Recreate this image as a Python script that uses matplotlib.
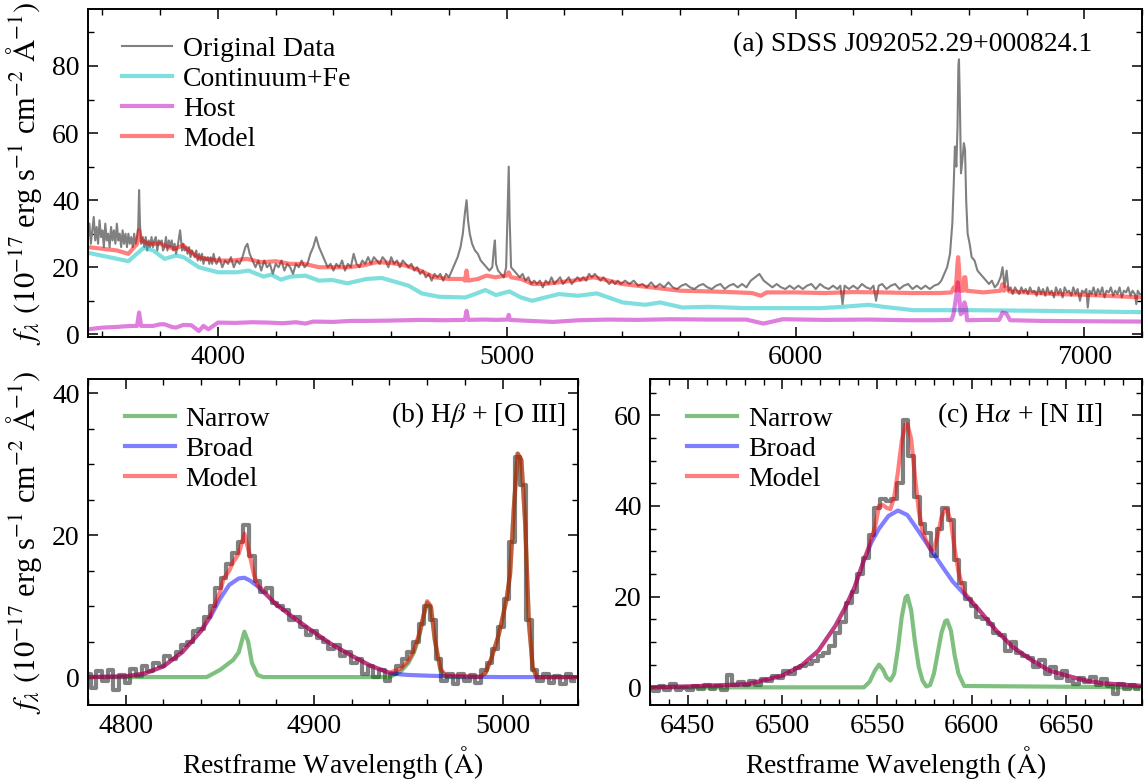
import matplotlib
matplotlib.use("Agg")
import matplotlib.pyplot as plt
from matplotlib.ticker import MultipleLocator

plt.rcParams['font.family'] = ['Liberation Serif', 'DejaVu Serif']
plt.rcParams['mathtext.fontset'] = 'stix'
plt.rcParams['font.size'] = 20

# ---- panel (a): full spectrum -------------------------------------------
wave_data = [
    3550, 3555, 3560, 3565, 3570, 3575, 3580, 3585, 3590, 3595, 3600, 3605, 3610, 3615, 3620, 3625,
    3630, 3635, 3640, 3645, 3650, 3655, 3660, 3665, 3670, 3675, 3680, 3685, 3690, 3695, 3700, 3705,
    3710, 3715, 3720, 3724, 3727, 3730, 3734, 3740, 3745, 3750, 3755, 3760, 3765, 3770, 3775, 3780,
    3785, 3790, 3795, 3800, 3805, 3810, 3815, 3820, 3825, 3830, 3835, 3840, 3845, 3850, 3855, 3862,
    3869, 3876, 3880, 3885, 3890, 3895, 3900, 3905, 3910, 3915, 3920, 3925, 3930, 3935, 3940, 3945,
    3950, 3955, 3960, 3965, 3970, 3975, 3980, 3985, 3990, 3995, 4005, 4015, 4025, 4035, 4045, 4055,
    4065, 4075, 4085, 4095, 4102, 4110, 4120, 4130, 4140, 4150, 4160, 4170, 4180, 4190, 4200, 4210,
    4220, 4230, 4240, 4250, 4260, 4270, 4280, 4290, 4300, 4310, 4320, 4330, 4340, 4350, 4360, 4370,
    4380, 4390, 4400, 4410, 4420, 4430, 4440, 4450, 4460, 4470, 4480, 4490, 4500, 4510, 4520, 4530,
    4540, 4550, 4560, 4570, 4580, 4590, 4600, 4610, 4620, 4630, 4640, 4650, 4660, 4670, 4680, 4690,
    4700, 4710, 4720, 4730, 4740, 4750, 4760, 4770, 4780, 4790, 4800, 4810, 4820, 4830, 4840, 4848,
    4855, 4861, 4866, 4872, 4880, 4890, 4900, 4910, 4920, 4930, 4940, 4950, 4956, 4959, 4963, 4970,
    4980, 4990, 4998, 5004, 5007, 5010, 5015, 5025, 5035, 5045, 5055, 5065, 5075, 5085, 5095, 5105,
    5115, 5125, 5135, 5145, 5155, 5165, 5175, 5185, 5195, 5205, 5215, 5225, 5235, 5245, 5255, 5265,
    5275, 5285, 5295, 5305, 5315, 5325, 5335, 5345, 5355, 5365, 5375, 5385, 5395, 5410, 5425, 5440,
    5455, 5470, 5485, 5500, 5515, 5530, 5545, 5560, 5575, 5590, 5605, 5620, 5635, 5650, 5665, 5680,
    5695, 5710, 5725, 5740, 5755, 5770, 5785, 5800, 5815, 5830, 5845, 5860, 5875, 5890, 5905, 5920,
    5935, 5950, 5965, 5980, 5995, 6010, 6025, 6040, 6055, 6070, 6085, 6100, 6115, 6130, 6145, 6155,
    6163, 6170, 6185, 6200, 6215, 6230, 6245, 6260, 6270, 6279, 6288, 6300, 6315, 6330, 6345, 6360,
    6375, 6390, 6405, 6420, 6435, 6450, 6465, 6480, 6495, 6505, 6515, 6525, 6535, 6543, 6548, 6552,
    6557, 6561, 6564, 6566, 6569, 6573, 6578, 6583, 6587, 6591, 6596, 6603, 6610, 6620, 6630, 6640,
    6650, 6660, 6670, 6680, 6690, 6700, 6710, 6717, 6724, 6731, 6738, 6745, 6752, 6760, 6767, 6775,
    6782, 6790, 6797, 6805, 6812, 6820, 6827, 6835, 6842, 6850, 6857, 6865, 6872, 6880, 6887, 6895,
    6902, 6910, 6917, 6925, 6932, 6940, 6947, 6955, 6962, 6970, 6977, 6985, 6992, 7000, 7007, 7012,
    7018, 7025, 7032, 7040, 7047, 7055, 7062, 7070, 7077, 7085, 7092, 7100, 7107, 7115, 7122, 7130,
    7137, 7145, 7152, 7160, 7167, 7175, 7180, 7185, 7192, 7200,
]
flux_data = [
    29, 33, 27, 31, 35, 28, 32, 27, 34, 29, 31, 26, 33, 28, 30, 26,
    32, 28, 31, 27, 33, 28, 30, 26, 31, 27, 30, 26, 30, 27, 29, 26,
    30, 27, 29, 32, 43, 33, 27, 29, 26, 29, 25, 28, 26, 29, 26, 28,
    29, 25, 28, 27, 28, 25, 26, 29, 25, 28, 26, 28, 25, 27, 24, 27,
    31, 25, 27, 25, 26, 24, 26, 23, 25, 24, 23, 25, 22, 24, 22, 24,
    21, 23, 22, 23, 21, 23, 21, 24, 22, 21, 23, 20, 22, 21, 23, 20,
    22, 21, 23, 26, 27, 24, 22, 20, 22, 19, 22, 20, 21, 18, 21, 20,
    22, 19, 21, 20, 18, 21, 20, 22, 20, 21, 24, 26, 29, 26, 24, 22,
    20, 21, 19, 21, 20, 22, 19, 21, 20, 24, 21, 20, 22, 21, 23, 21,
    23, 22, 21, 23, 22, 20, 23, 21, 22, 20, 22, 21, 20, 21, 19, 20,
    18, 19, 17, 18, 16, 18, 17, 18, 16, 18, 17, 19, 21, 23, 26, 30,
    36, 40, 34, 30, 27, 25, 24, 22, 21, 20, 19, 20, 26, 28, 21, 19,
    18, 17, 20, 40, 50, 35, 20, 19, 18, 17, 18, 16, 17, 15, 16, 15,
    16, 14, 16, 15, 17, 15, 16, 17, 15, 16, 17, 15, 16, 17, 16, 17,
    16, 18, 17, 18, 17, 16, 17, 16, 15, 16, 15, 16, 15, 16, 15, 16,
    14.5, 15, 14, 15.5, 14, 15, 14, 15.5, 14, 13.5, 14.5, 15, 14, 13.5, 14.5, 15,
    14, 13.5, 14.5, 15, 13.5, 14.5, 15, 14, 15, 14, 16, 17, 18, 16, 15, 14,
    15, 14, 13.5, 14.5, 13.5, 14.5, 13.5, 14.5, 15, 13.5, 15, 14, 13.5, 14.5, 13.5, 14.5,
    9, 14.5, 13.5, 14.5, 13.5, 15, 14, 13.5, 14.5, 10, 14.5, 15, 13.5, 14.5, 15, 13.5,
    14.5, 15, 13.5, 14.5, 13.5, 14.5, 13.5, 14.5, 15, 16, 18, 20, 24, 33, 45, 56,
    50, 62, 80, 82, 70, 48, 52, 57, 55, 40, 30, 27, 23, 22, 19, 18,
    17, 16, 15, 16, 14, 15, 17, 20, 14, 19, 13, 14, 12, 14, 13, 12,
    14, 12.5, 13.5, 12, 14, 12.5, 13, 11.5, 14, 12, 13.5, 11.5, 14, 12, 13, 11,
    14, 12, 13.5, 11, 14, 12.5, 13, 11.5, 14, 12, 13.5, 10, 13, 12.5, 13.5, 8,
    13, 12, 14, 11.5, 13.5, 12, 14, 11, 13, 12.5, 14, 11.5, 13, 12, 14, 11,
    13, 12.5, 14, 11.5, 13, 12, 9, 13, 12, 12,
]

wave_model = [
    3550, 3600, 3650, 3690, 3700, 3720, 3727, 3734, 3760, 3800, 3830, 3850, 3880, 3900, 3930, 3960,
    4000, 4050, 4100, 4150, 4200, 4250, 4300, 4350, 4400, 4450, 4500, 4550, 4600, 4650, 4700, 4750,
    4800, 4850, 4855, 4861, 4866, 4900, 4930, 4960, 5000, 5007, 5015, 5050, 5090, 5130, 5180, 5230,
    5300, 5330, 5400, 5500, 5600, 5700, 5800, 5850, 5880, 5900, 6000, 6100, 6200, 6300, 6400, 6500,
    6540, 6548, 6555, 6560, 6563, 6566, 6570, 6580, 6584, 6588, 6592, 6650, 6710, 6717, 6722, 6731,
    6740, 6800, 6900, 7000, 7100, 7200,
]
flux_model = [
    26, 25.5, 25, 24, 25, 27, 31, 28, 27, 27, 26, 25.5, 26.5, 25, 23, 22.5,
    22, 22, 22.5, 21.5, 21.8, 21, 21, 20, 20, 20, 20.5, 21.5, 21.3, 20.5, 19, 17,
    16.5, 16.5, 16, 19, 16, 16.5, 17.5, 17, 17.5, 18.5, 17, 16.5, 15, 15, 15.5, 16,
    17, 16.5, 15, 14, 13, 12.8, 12.5, 12.3, 11.5, 12.5, 12.5, 12.3, 12.6, 12.5, 12.3, 12.3,
    12.5, 14, 13, 20, 23, 20, 13, 13, 17, 17, 13, 12.5, 13, 15, 13, 14,
    12.8, 12.5, 12, 11.8, 11.4, 11,
]

wave_cont = [
    3551, 3690, 3743, 3776, 3815, 3855, 3881, 3934, 4000, 4066, 4106, 4158, 4185, 4218, 4251, 4303,
    4350, 4396, 4448, 4514, 4567, 4620, 4660, 4706, 4765, 4857, 4890, 4926, 4963, 5009, 5049, 5088,
    5134, 5181, 5247, 5312, 5402, 5479, 5531, 5608, 5699, 5828, 5956, 6085, 6163, 6253, 6304, 6408,
    6601, 6859, 7200,
]
flux_cont = [
    24.3, 21.8, 25.8, 25.0, 22.5, 23.5, 23.0, 20.0, 18.5, 18.5, 19.0, 17.2, 17.8, 16.3, 17.2, 17.5,
    16.0, 16.2, 15.2, 16.5, 16.8, 15.5, 14.5, 12.2, 11.2, 11.0, 12.0, 13.2, 11.7, 12.8, 11.0, 10.0,
    11.0, 12.0, 11.5, 12.2, 9.5, 8.8, 9.5, 8.0, 8.2, 7.8, 7.8, 7.8, 8.2, 8.8, 8.2, 7.2,
    7.2, 7.0, 6.6,
]

wave_host = [
    3551, 3600, 3650, 3697, 3720, 3727, 3734, 3776, 3800, 3815, 3840, 3855, 3880, 3908, 3934, 3950,
    3967, 4000, 4060, 4120, 4172, 4224, 4270, 4303, 4330, 4400, 4460, 4514, 4600, 4700, 4780, 4855,
    4861, 4867, 4920, 4963, 5003, 5007, 5011, 5080, 5161, 5250, 5350, 5450, 5570, 5700, 5830, 5889,
    5956, 6100, 6250, 6400, 6472, 6540, 6547, 6556, 6562, 6566, 6572, 6580, 6585, 6590, 6594, 6650,
    6705, 6717, 6730, 6743, 6850, 7000, 7200,
]
flux_host = [
    1.5, 2.0, 2.2, 2.5, 2.5, 6.5, 2.5, 2.5, 3.0, 3.0, 2.2, 2.0, 2.8, 2.7, 1.0, 2.5,
    1.5, 3.5, 3.4, 3.6, 3.5, 3.3, 3.6, 3.2, 3.8, 3.7, 4.0, 4.0, 4.1, 4.3, 4.2, 4.3,
    7.0, 4.3, 4.4, 4.3, 4.4, 5.8, 4.3, 4.0, 3.7, 4.2, 4.4, 4.3, 4.5, 4.4, 4.4, 3.2,
    4.5, 4.3, 4.4, 4.2, 4.2, 4.3, 6.0, 11.0, 15.5, 12.0, 6.0, 6.5, 9.5, 8.0, 4.2, 4.3,
    4.3, 6.5, 6.2, 4.2, 4.0, 3.9, 3.8,
]

# ---- panel (b): Hbeta + [O III] -----------------------------------------
wave_hb = list(range(4780, 5039, 3))
flux_hb = [
    0.5, -1.5, 0.8, -0.5, 1.0, -1.8, 0.3, -0.8, 1.2, 0.2, 1.5, 0.8, 2.0, 1.5, 3.0, 2.5,
    3.5, 4.5, 5.0, 6.5, 6.8, 8.5, 10.0, 12.5, 14.0, 16.0, 17.5, 19.0, 21.5, 17.0, 13.5, 12.0,
    12.5, 10.5, 10.0, 9.5, 8.0, 8.5, 7.0, 6.0, 6.5, 5.5, 5.0, 4.0, 4.5, 3.0, 3.5, 2.0,
    2.5, 0.5, 1.5, 0.0, 1.0, -0.5, 0.5, 1.5, 2.5, 3.5, 5.0, 7.5, 10.0, 8.0, 2.5, -0.5,
    0.5, -1.0, 0.5, -0.5, 0.3, -0.8, 1.0, 2.0, 4.0, 7.0, 11.0, 19.0, 31.0, 27.0, 8.0, 1.0,
    -0.5, 0.5, -0.8, 0.2, -1.0, 0.5, -0.5,
]

wave_hb_broad = [4780, 4800, 4810, 4820, 4830, 4840, 4845, 4850, 4855, 4860, 4863, 4866, 4870,
                 4875, 4880, 4890, 4900, 4910, 4920, 4930, 4940, 4945, 4950, 4960, 4980, 5000, 5040]
flux_hb_broad = [0.0, 0.1, 0.5, 1.5, 3.5, 6.5, 8.5, 11.0, 13.0, 13.9, 14.0, 13.6, 12.8,
                 11.5, 10.2, 8.2, 6.3, 4.5, 3.0, 1.6, 0.6, 0.4, 0.3, 0.2, 0.05, 0.0, 0.0]

wave_hb_narrow = [4780, 4843, 4850, 4857, 4860, 4863, 4865, 4867, 4870, 4873, 4940, 4946, 4950,
                  4953, 4956, 4958, 4960, 4962, 4964, 4967, 4970, 4988, 4991, 4994, 4998,
                  5002, 5004, 5006, 5008, 5010, 5012, 5014, 5016, 5018, 5040]
flux_hb_narrow = [0.0, 0.0, 1.0, 2.4, 3.5, 6.4, 5.0, 2.0, 0.3, 0.0, 0.0, 0.8, 2.0,
                  3.5, 6.0, 8.5, 10.5, 9.8, 5.2, 1.0, 0.0, 0.0, 0.6, 2.6, 6.0,
                  10.8, 14.5, 24.0, 31.5, 30.6, 21.6, 7.5, 1.4, 0.0, 0.0]

wave_hb_model = [4780, 4800, 4810, 4820, 4830, 4840, 4845, 4850, 4852, 4855, 4857, 4860, 4863,
                 4866, 4868, 4870, 4872, 4875, 4880, 4890, 4900, 4910, 4920, 4930, 4940, 4946,
                 4950, 4953, 4956, 4958, 4960, 4962, 4964, 4967, 4970, 4988, 4991, 4994, 4998,
                 5002, 5004, 5006, 5008, 5010, 5012, 5014, 5016, 5018, 5040]
flux_hb_model = [0.0, 0.1, 0.5, 1.5, 3.5, 6.5, 8.7, 12.0, 13.9, 15.0, 16.2, 17.4, 20.2,
                 17.0, 14.5, 12.9, 12.5, 11.6, 10.2, 8.2, 6.3, 4.5, 3.0, 1.6, 0.6, 1.2,
                 2.3, 3.8, 6.3, 8.7, 10.7, 10.0, 5.4, 1.2, 0.2, 0.05, 0.6, 2.6, 6.0,
                 10.8, 14.5, 24.0, 31.5, 30.6, 21.6, 7.5, 1.4, 0.0, 0.0]

# ---- panel (c): Halpha + [N II] -----------------------------------------
wave_ha = list(range(6430, 6689, 3))
flux_ha = [
    -0.3, -0.8, 0.2, -0.5, 0.8, -0.5, -0.2, -0.6, 0.3, -0.3, 0.5, -0.4, 0.2, -0.6, 2.8, 0.5,
    1.2, 0.6, 1.5, 0.5, 1.8, 1.5, 2.6, 2.0, 3.5, 3.0, 4.2, 4.8, 5.2, 5.8, 7.0, 7.5,
    9.2, 12.0, 14.5, 18.5, 21.0, 25.0, 28.5, 33.5, 39.5, 41.5, 41.0, 41.5, 45.0, 59.0, 51.0, 42.0,
    36.0, 34.0, 29.0, 35.0, 39.5, 37.0, 28.0, 23.0, 19.5, 18.0, 15.5, 15.0, 14.0, 12.0, 11.5, 8.0,
    10.0, 7.5, 7.0, 6.5, 4.5, 6.0, 3.0, 4.5, 2.0, 3.5, 1.5, 0.8, 2.0, 1.2, 2.3, 0.5,
    1.8, 0.2, -1.5, 0.8, -0.3, 0.5, -0.4,
]

wave_ha_broad = [6430, 6450, 6470, 6482, 6500, 6510, 6519, 6528, 6533, 6538, 6543, 6547, 6551,
                 6556, 6561, 6566, 6571, 6575, 6579, 6585, 6590, 6596, 6604, 6613, 6622, 6632,
                 6641, 6650, 6659, 6669, 6690]
flux_ha_broad = [0.0, 0.2, 0.5, 0.7, 2.6, 4.8, 8.1, 13.6, 17.5, 22.0, 28.0, 32.0, 35.0,
                 37.8, 39.0, 38.0, 35.0, 32.5, 30.0, 26.3, 23.3, 20.6, 17.0, 12.5, 8.8, 5.9,
                 3.7, 2.6, 1.6, 0.9, 0.3]

wave_ha_narrow = [6430, 6543, 6546, 6549, 6551, 6553, 6555, 6557, 6559, 6561, 6563, 6565, 6566,
                  6568, 6570, 6572, 6574, 6576, 6578, 6580, 6582, 6584, 6586, 6587, 6589, 6591,
                  6593, 6596, 6690]
flux_ha_narrow = [0.0, 0.0, 1.2, 3.8, 5.0, 4.0, 2.2, 1.5, 3.0, 8.5, 15.5, 19.8, 20.2,
                  17.0, 10.0, 4.5, 1.5, 0.2, 0.5, 3.0, 7.5, 12.0, 14.6, 14.8, 12.5, 7.0,
                  3.0, 0.3, 0.0]

wave_ha_model = [6430, 6450, 6470, 6482, 6500, 6510, 6519, 6528, 6533, 6538, 6543, 6546, 6549,
                 6551, 6553, 6555, 6557, 6559, 6561, 6563, 6565, 6566, 6568, 6570, 6572, 6574,
                 6576, 6578, 6580, 6582, 6584, 6586, 6587, 6589, 6591, 6593, 6596, 6604, 6613,
                 6622, 6632, 6641, 6650, 6659, 6669, 6690]
flux_ha_model = [0.0, 0.2, 0.5, 0.7, 2.6, 4.8, 8.1, 13.6, 17.5, 22.0, 28.0, 31.5, 35.5,
                 40.0, 40.2, 39.6, 39.3, 41.9, 47.5, 54.3, 58.0, 58.0, 54.8, 46.5, 39.0, 34.5,
                 32.3, 30.5, 30.5, 33.5, 37.5, 39.3, 39.2, 36.5, 30.5, 25.5, 20.9, 17.0, 12.5,
                 8.8, 5.9, 3.7, 2.6, 1.6, 0.9, 0.3]

YLABEL = r'$f_\lambda$ $(10^{-17}$ erg s$^{-1}$ cm$^{-2}$ $\mathrm{\AA}^{-1})$'
XLABEL = r'Restframe Wavelength ($\mathrm{\AA}$)'


def style_axes(ax, xmajor, xminor, ymajor, yminor):
    ax.xaxis.set_major_locator(MultipleLocator(xmajor))
    ax.xaxis.set_minor_locator(MultipleLocator(xminor))
    ax.yaxis.set_major_locator(MultipleLocator(ymajor))
    ax.yaxis.set_minor_locator(MultipleLocator(yminor))
    ax.tick_params(which='both', direction='in', top=True, right=True, labelsize=20)
    ax.tick_params(which='major', length=7, width=1.1, pad=6)
    ax.tick_params(which='minor', length=4, width=1.0)
    for sp in ax.spines.values():
        sp.set_linewidth(1.4)


def add_legend(ax, x0):
    ax.legend(loc='upper left', frameon=False, fontsize=20, handlelength=1.8,
              handletextpad=0.4, labelspacing=0.16, borderaxespad=0.3,
              bbox_to_anchor=(x0, 0.975))


def draw_lines_panel(ax, wave, flux, narrow, broad, model, title, title_x, xlim, ylim):
    ax.plot(wave, flux, color='gray', lw=3, drawstyle='steps-mid')
    ax.plot(narrow[0], narrow[1], color='g', alpha=0.5, lw=3, label='Narrow')
    ax.plot(broad[0], broad[1], color='b', alpha=0.5, lw=3, label='Broad')
    ax.plot(model[0], model[1], color='r', alpha=0.5, lw=3, label='Model')
    ax.set_xlim(*xlim)
    ax.set_ylim(*ylim)
    ax.set_xlabel(XLABEL, fontsize=20, labelpad=4)
    add_legend(ax, 0.035)
    ax.text(title_x, 0.89, title, transform=ax.transAxes,
            ha='right', va='center', fontsize=20)


fig = plt.figure(figsize=(11.44, 7.81), dpi=100)

ax_a = fig.add_axes([0.0769, 0.5685, 0.9214, 0.42])
ax_a.plot(wave_data, flux_data, color='gray', lw=1.5, label='Original Data')
ax_a.plot(wave_cont, flux_cont, color='c', alpha=0.5, lw=3, label='Continuum+Fe')
ax_a.plot(wave_host, flux_host, color='m', alpha=0.5, lw=3, label='Host')
ax_a.plot(wave_model, flux_model, color='r', alpha=0.5, lw=3, label='Model')
ax_a.set_xlim(3550, 7200)
ax_a.set_ylim(-0.8, 97)
ax_a.set_ylabel(YLABEL, fontsize=22, labelpad=6)
style_axes(ax_a, 1000, 200, 20, 10)
add_legend(ax_a, 0.014)
ax_a.text(0.953, 0.89, '(a) SDSS J092052.29+000824.1', transform=ax_a.transAxes,
          ha='right', va='center', fontsize=20)

ax_b = fig.add_axes([0.0769, 0.0967, 0.4283, 0.418])
draw_lines_panel(ax_b, wave_hb, flux_hb,
                 (wave_hb_narrow, flux_hb_narrow), (wave_hb_broad, flux_hb_broad),
                 (wave_hb_model, flux_hb_model),
                 r'(b) H$\beta$ + [O III]', 0.975, (4780, 5040), (-4, 42))
ax_b.set_ylabel(YLABEL, fontsize=22, labelpad=6)
style_axes(ax_b, 100, 20, 20, 5)

ax_c = fig.add_axes([0.5682, 0.0967, 0.4301, 0.418])
draw_lines_panel(ax_c, wave_ha, flux_ha,
                 (wave_ha_narrow, flux_ha_narrow), (wave_ha_broad, flux_ha_broad),
                 (wave_ha_model, flux_ha_model),
                 r'(c) H$\alpha$ + [N II]', 0.921, (6430, 6690), (-4, 68))
style_axes(ax_c, 50, 10, 20, 5)

fig.savefig('out.png', dpi=100)
